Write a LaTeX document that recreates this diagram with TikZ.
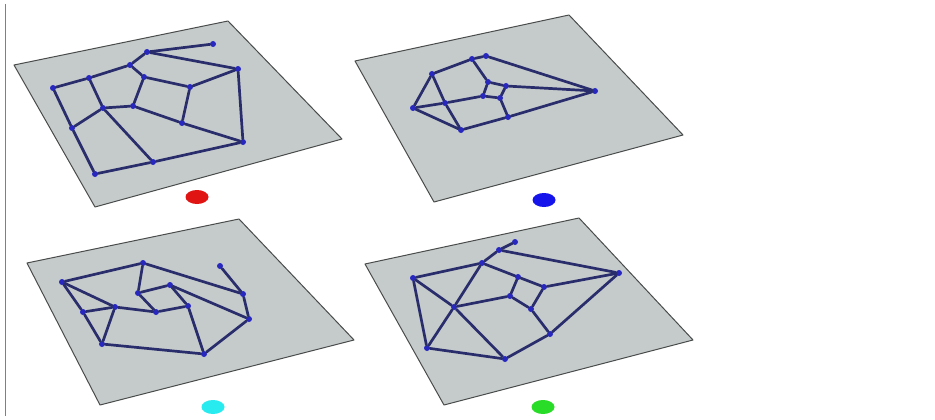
\documentclass[tikz,border=0pt]{standalone}
\usetikzlibrary{shapes.geometric}
\begin{document}
\begin{tikzpicture}[x=1pt,y=-1pt,
  plate/.style={fill=plategray,draw=plateedge,line width=1pt,line join=round},
  vtx/.style={circle,fill=vtxblue,inner sep=0pt,minimum size=6pt},
  edge/.style={draw=edgenavy,line width=2.7pt,line cap=round},
  marker/.style={ellipse,inner sep=0pt,minimum width=23pt,minimum height=14pt}]
\definecolor{plategray}{HTML}{C5CBCB}
\definecolor{plateedge}{HTML}{4A4C4C}
\definecolor{vtxblue}{HTML}{2828C0}
\definecolor{edgenavy}{HTML}{2A2D6C}
\definecolor{mred}{RGB}{225,20,20}
\definecolor{mblue}{RGB}{20,20,235}
\definecolor{mcyan}{RGB}{40,235,240}
\definecolor{mgreen}{RGB}{40,220,40}
\useasboundingbox (0,0) rectangle (935,420);
\fill[white] (0,0) rectangle (935,420);
\draw[gray,line width=0.8pt] (5,4) -- (5,416);

% ---------- panel 1 (red) ----------
\draw[plate] (14,65) -- (228,21) -- (342,139) -- (95,207) -- cycle;
\foreach \n/\p in {A/{213,44},B/{147,52},C/{238,69},D/{130,65},E/{144,77},F/{89,78},G/{53,88},H/{190,87},I/{103,108},J/{133,106},K/{182,123},L/{72,128},M/{243,142},N/{153,162},O/{95,174}}
  \node[vtx] (a\n) at (\p) {};
\foreach \u/\v in {A/B,B/D,B/C,C/M,D/F,D/E,F/G,F/I,G/L,L/I,L/O,I/J,I/N,J/E,E/H,H/C,H/K,J/K,K/M,O/N,N/M}
  \draw[edge] (a\u) -- (a\v);
\node[marker,fill=mred] (redm) at (197,197) {};

% ---------- panel 2 (blue) ----------
\draw[plate] (355,61) -- (569,15) -- (683,135) -- (434,202) -- cycle;
\foreach \n/\p in {a/{486,56},b/{472,59},c/{432,74},d/{488,82},e/{506,86},f/{595,91},g/{483,96},h/{500,98},i/{445,103},j/{413,108},k/{508,117},l/{461,130}}
  \node[vtx] (b\n) at (\p) {};
\foreach \u/\v in {c/b,b/a,a/f,b/d,d/g,d/e,e/h,g/h,e/f,h/k,k/f,k/l,l/j,j/c,c/i,i/l,j/i,i/g}
  \draw[edge] (b\u) -- (b\v);
\node[marker,fill=mblue] (bluem) at (544,200) {};

% ---------- panel 3 (cyan) ----------
\draw[plate] (27,263) -- (239,219) -- (354,340) -- (100,405) -- cycle;
\foreach \n/\p in {1/{143,263},2/{220,266},3/{62,282},4/{170,285},5/{138,293},6/{243,294},7/{115,307},8/{188,306},9/{83,312},10/{156,312},11/{249,319},12/{102,344},13/{204,354}}
  \node[vtx] (c\n) at (\p) {};
\foreach \u/\v in {3/1,1/5,1/6,2/6,6/11,3/9,3/7,7/10,9/7,9/12,7/12,12/13,13/8,8/10,13/11,5/4,4/8,5/10,4/11}
  \draw[edge] (c\u) -- (c\v);
\node[marker,fill=mcyan] (cyanm) at (213,407) {};

% ---------- panel 4 (green) ----------
\draw[plate] (365,264) -- (579,218) -- (693,340) -- (444,405) -- cycle;
\foreach \n/\p in {1/{515,242},2/{499,250},3/{482,263},4/{619,273},5/{413,278},6/{518,277},7/{544,287},8/{510,296},9/{454,307},10/{531,309},11/{550,334},12/{427,348},13/{505,359}}
  \node[vtx] (d\n) at (\p) {};
\foreach \u/\v in {1/2,2/3,2/4,3/5,3/6,3/9,9/12,5/9,9/13,5/12,12/13,13/11,11/4,9/8,8/6,6/7,7/10,10/8,7/4,10/11}
  \draw[edge] (d\u) -- (d\v);
\node[marker,fill=mgreen] (greenm) at (543,407) {};
\end{tikzpicture}
\end{document}
